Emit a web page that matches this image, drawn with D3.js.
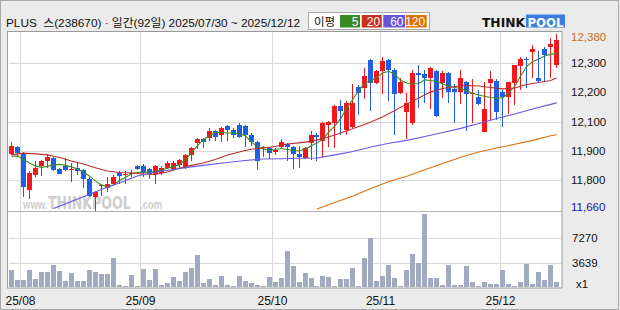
<!DOCTYPE html>
<html>
<head>
<meta charset="utf-8">
<script src="https://cdn.jsdelivr.net/npm/d3@7"></script>
<style>
body { margin: 0; background: #ebebeb; }
svg { display: block; font-family: "Liberation Sans", Arial, "Noto Sans CJK KR", sans-serif; }
</style>
</head>
<body>
<div id="main"></div>
<script>
const ctx = {
    w: 620,
    h: 310,
    plotL: 7.5,
    plotR: 562,
    plotT: 31,
    sepY: 211,
    plotB: 288,
    labelX: 571
};

// trading days 2025/07/30 ~ 2025/12/12 (92)
const dates = ["07/30","07/31",
    "08/01","08/04","08/05","08/06","08/07","08/08","08/11","08/12","08/13","08/14",
    "08/18","08/19","08/20","08/21","08/22","08/25","08/26","08/27","08/28","08/29",
    "09/01","09/02","09/03","09/04","09/05","09/08","09/09","09/10","09/11","09/12",
    "09/15","09/16","09/17","09/18","09/19","09/22","09/23","09/24","09/25","09/26","09/29","09/30",
    "10/01","10/02","10/10","10/13","10/14","10/15","10/16","10/17","10/20","10/21","10/22","10/23","10/24",
    "10/27","10/28","10/29","10/30","10/31",
    "11/03","11/04","11/05","11/06","11/07","11/10","11/11","11/12","11/13","11/14",
    "11/17","11/18","11/19","11/20","11/21","11/24","11/25","11/26","11/27","11/28",
    "12/01","12/02","12/03","12/04","12/05","12/08","12/09","12/10","12/11","12/12"];

const open = [11890,11920,11895,11745,11805,11840,11860,11875,11830,11840,
    11825,11835,11825,11790,11715,11760,11750,11770,11815,11805,
    11810,11840,11840,11830,11810,11815,11835,11830,11845,11835,
    11885,11935,11950,11955,11985,11970,12005,11990,12010,12005,
    11970,11940,11915,11915,11900,11920,11930,11920,11890,11875,
    11935,11970,11945,12010,12015,12085,11990,12000,12165,12160,
    12275,12180,12230,12275,12235,12140,12060,12015,12220,12215,
    12200,12230,12180,12220,12155,12145,12185,12135,12125,11980,
    12180,12190,12145,12125,12180,12250,12280,12305,12200,12320,
    12325,12255];
const high = [11940,11925,11900,11820,11860,11865,11890,11880,11832,11875,
    11855,11855,11830,11795,11740,11770,11795,11805,11820,11820,
    11825,11845,11850,11835,11845,11840,11860,11860,11870,11890,
    11920,11955,11955,11995,11987,12000,12010,11995,12015,12010,
    11975,11945,11925,11920,11915,11950,11935,11925,11925,11920,
    11985,11975,12020,12025,12090,12110,12105,12175,12170,12240,
    12280,12235,12285,12280,12240,12200,12140,12235,12255,12235,
    12245,12235,12230,12225,12175,12235,12190,12195,12150,12185,
    12230,12195,12150,12185,12255,12285,12285,12335,12310,12325,
    12365,12380];
const low = [11885,11880,11715,11705,11795,11800,11835,11820,11810,11820,
    11775,11805,11750,11715,11660,11720,11735,11765,11770,11770,
    11795,11825,11795,11790,11770,11805,11830,11825,11835,11830,
    11860,11910,11915,11945,11945,11940,11945,11955,11955,11920,
    11925,11825,11880,11870,11885,11915,11860,11830,11835,11870,
    11865,11860,11875,11920,11915,11970,11970,11995,12050,12115,
    12065,12175,12135,12105,11970,12135,11950,12010,12080,12100,
    12075,12040,12120,12100,12015,12095,11985,12015,12090,11980,
    12030,12030,12000,12055,12090,12150,12160,12200,12180,12190,
    12200,12240];
const close = [11925,11895,11755,11815,11835,11860,11880,11825,11810,11825,
    11830,11820,11790,11720,11735,11765,11770,11795,11800,11810,
    11815,11830,11815,11810,11840,11835,11855,11855,11865,11885,
    11915,11950,11940,11985,11960,11995,11990,11970,11960,11970,
    11940,11860,11920,11895,11905,11940,11920,11890,11880,11915,
    11970,11960,12015,12020,12085,12065,12100,12100,12140,12210,
    12180,12230,12270,12235,12135,12185,12100,12220,12215,12200,
    12240,12045,12220,12145,12145,12200,12135,12140,12095,12075,
    12195,12060,12125,12185,12255,12280,12275,12320,12190,12295,
    12340,12355];
const volume = [2485,995,995,2485,1143,2187,2187,3230,2336,845,
    2038,845,845,2485,2187,1889,1889,4274,250,100,
    1740,100,2634,995,2634,250,547,1441,845,2187,
    2783,4722,547,1143,250,1590,250,100,1590,845,
    547,250,100,1441,696,1292,5318,3081,696,2038,
    1292,100,1590,1441,100,1143,1143,2783,100,4274,
    7256,845,1590,3230,1292,100,2485,4871,3578,10835,
    1292,1292,250,3230,250,250,3081,696,100,696,
    398,398,2485,398,100,696,3380,398,2187,995,
    3230,696];

// moving averages
const ma5 = [11880,11883,11868,11854,11842,11836,11840,11846,11848,11844,
    11838,11830,11817,11801,11781,11764,11758,11764,11781,11795,
    11809,11815,11817,11817,11819,11825,11832,11838,11848,11866,
    11895,11923,11948,11964,11978,11978,11976,11976,11972,11966,
    11940,11921,11911,11906,11909,11913,11909,11905,11904,11911,
    11923,11936,11950,11982,12005,12037,12078,12115,12150,12180,
    12189,12204,12221,12228,12215,12190,12180,12176,12178,12193,
    12190,12186,12176,12166,12162,12158,12148,12137,12131,12126,
    12121,12119,12119,12140,12166,12209,12247,12268,12278,12290,
    12297,12303];
const ma20Day = [0,2,4,6,8,10,12,14,16,18,20,22,24,26,28,30,32,34,36,38,40,42,44,46,
    48,50,52,54,56,58,60,62,64,66,68,70,72,74,76,78,80,82,84,86,88,90,91];
const ma20 = [11887,11894,11891,11887,11876,11862,11850,11834,11821,11815,11814,11809,
    11807,11817,11832,11844,11854,11868,11885,11899,11910,11915,11921,11931,
    11936,11942,11954,11968,11985,12003,12021,12042,12068,12095,12119,12144,
    12158,12166,12170,12168,12162,12156,12160,12174,12182,12190,12201];
const ma60Day = [7,9,12,15,18,21,24,27,30,33,36,39,42,45,48,51,54,57,60,63,66,69,72,75,78,81,84,87,90,91];
const ma60 = [11668,11687,11716,11746,11772,11801,11817,11827,11838,11847,11856,11864,11870,11871,
    11873,11874,11887,11901,11919,11934,11946,11962,11978,11995,12015,12035,12054,12074,12093,12099];
const ma120Day = [51,54,57,60,63,66,69,72,75,78,81,84,87,90,91];
const ma120 = [11666,11693,11719,11750,11778,11800,11826,11852,11877,11899,11915,11930,11946,11965,11969];

const priceLabels = ["12,380","12,300","12,200","12,100","11,900","11,800","11,660"];
const volumeTicks = [3639, 7270];
const monthStart = ["08/01","09/01","10/01","11/03","12/01"];
const monthLabels = ["25/08","25/09","25/10","25/11","25/12"];
const maNames = ["5","20","60","120"];

const UP = "#f2171b", DOWN = "#1f5fe4";
const maColors = ["#3c8c1e","#b8302c","#6a5ae0","#d9700a"];
const legendColors = ["#3a8a22","#c83020","#6655dd","#e07000"];

function createViz() {
    let svg = d3.select("#main").append("svg")
        .attr("width", ctx.w).attr("height", ctx.h);

    // outer frame
    svg.append("rect").attr("x", 0.5).attr("y", 0.5)
        .attr("width", ctx.w - 2).attr("height", ctx.h - 1)
        .attr("fill", "#ebebeb").attr("stroke", "#a8a8a8");

    let xScale = d3.scaleBand().domain(dates).range([8.5, 559.6]);
    let cx = (d) => xScale(d) + xScale.step() / 2;
    let yScale = d3.scaleLinear().domain([11660, 12380]).range([210.5, 34]);
    let vScale = d3.scaleLinear().domain([0, 11300]).range([287, 211]);
    let gridY = d3.scaleLinear().domain([0, 6]).range([33.7, 209.7]);

    drawHeader(svg);

    // plot area
    svg.append("rect").attr("x", ctx.plotL).attr("y", ctx.plotT + 0.5)
        .attr("width", ctx.plotR - ctx.plotL).attr("height", ctx.plotB - ctx.plotT - 0.5)
        .attr("fill", "white").attr("stroke", "#9a9a9a");

    let gridG = svg.append("g").attr("stroke", "#d9d9d9").attr("shape-rendering", "crispEdges");
    gridG.selectAll("line.v").data(monthStart).enter().append("line")
        .attr("x1", (d) => Math.round(xScale(d)) + 0.5).attr("x2", (d) => Math.round(xScale(d)) + 0.5)
        .attr("y1", ctx.plotT + 1).attr("y2", ctx.plotB - 1);
    gridG.selectAll("line.h").data([1, 2, 3, 4, 5]).enter().append("line")
        .attr("x1", ctx.plotL + 1).attr("x2", ctx.plotR - 1)
        .attr("y1", (d) => Math.round(gridY(d)) + 0.5).attr("y2", (d) => Math.round(gridY(d)) + 0.5);
    gridG.selectAll("line.vol").data(volumeTicks).enter().append("line")
        .attr("x1", ctx.plotL + 1).attr("x2", ctx.plotR - 1)
        .attr("y1", (d) => Math.round(vScale(d)) + 0.5).attr("y2", (d) => Math.round(vScale(d)) + 0.5);

    // separator between price and volume panels
    svg.append("line").attr("x1", ctx.plotL).attr("x2", ctx.plotR)
        .attr("y1", ctx.sepY + 0.5).attr("y2", ctx.sepY + 0.5)
        .attr("stroke", "#b5b5b5").attr("shape-rendering", "crispEdges");

    // watermark (tall narrow letters: small font stretched vertically)
    let wmG = svg.append("g").attr("fill", "#c6c6c6").attr("opacity", 0.85)
        .attr("font-weight", "bold");
    wmG.append("text").attr("transform", "translate(23,209) scale(1,1.3)")
        .attr("font-size", 9.5).text("www.");
    wmG.append("text").attr("transform", "translate(48,209) scale(1,1.45)")
        .attr("font-family", "DejaVu Sans, sans-serif")
        .attr("font-size", 12.6).text("THINKPOOL");
    wmG.append("text").attr("transform", "translate(140,209) scale(1,1.3)")
        .attr("font-size", 9.5).text(".com");

    // volume bars
    svg.append("g").selectAll("rect").data(dates).enter().append("rect")
        .attr("x", (d) => cx(d) - 2.5)
        .attr("y", (d, i) => vScale(volume[i]))
        .attr("width", 5)
        .attr("height", (d, i) => vScale(0) - vScale(volume[i]))
        .attr("fill", "#a2aac2")
        .attr("shape-rendering", "crispEdges");

    // candles
    let candleG = svg.append("g").attr("shape-rendering", "crispEdges");
    candleG.selectAll("line").data(dates).enter().append("line")
        .attr("x1", cx).attr("x2", cx)
        .attr("y1", (d, i) => yScale(high[i]))
        .attr("y2", (d, i) => yScale(low[i]))
        .attr("stroke", (d, i) => close[i] >= open[i] ? UP : DOWN);
    candleG.selectAll("rect").data(dates).enter().append("rect")
        .attr("x", (d) => cx(d) - 2.5)
        .attr("y", (d, i) => yScale(Math.max(open[i], close[i])))
        .attr("width", 5)
        .attr("height", (d, i) => Math.max(1.5, Math.abs(yScale(open[i]) - yScale(close[i]))))
        .attr("fill", (d, i) => close[i] >= open[i] ? UP : DOWN);

    // moving averages, clipped to the price panel
    svg.append("clipPath").attr("id", "priceClip").append("rect")
        .attr("x", ctx.plotL).attr("y", ctx.plotT).attr("width", ctx.plotR - ctx.plotL)
        .attr("height", ctx.sepY - ctx.plotT);
    let maG = svg.append("g").attr("clip-path", "url(#priceClip)");
    let series = [
        ma5.map((v, i) => [i, v]),
        ma20.map((v, k) => [ma20Day[k], v]),
        ma60.map((v, k) => [ma60Day[k], v]),
        ma120.map((v, k) => [ma120Day[k], v])
    ];
    let line = d3.line().x((d) => cx(dates[d[0]])).y((d) => yScale(d[1]));
    series.forEach((s, k) => {
        maG.append("path").datum(s)
            .attr("d", line)
            .attr("fill", "none")
            .attr("stroke", maColors[k])
            .attr("stroke-width", 1.1);
    });

    // right-hand labels
    svg.append("g").selectAll("text").data(priceLabels).enter().append("text")
        .attr("x", ctx.labelX)
        .attr("y", (d, i) => gridY(i) + (i === 0 ? 3.6 : (i === 6 ? -3 : 0)))
        .attr("dy", "0.35em")
        .attr("font-size", 11.5)
        .attr("fill", (d, i) => i === 0 ? "#c8701e" : (i === 6 ? "#1414b4" : "#111"))
        .text((d) => d);
    svg.append("g").selectAll("text").data(volumeTicks).enter().append("text")
        .attr("x", ctx.labelX + 1)
        .attr("y", (d) => vScale(d))
        .attr("dy", "0.35em")
        .attr("font-size", 11.5)
        .attr("fill", "#111")
        .text((d) => d);
    svg.append("text").attr("x", ctx.labelX + 5).attr("y", vScale(0)).attr("dy", "0.1em")
        .attr("font-size", 11.5).attr("fill", "#111").text("x1");

    // month labels
    svg.append("g").selectAll("text").data(monthStart).enter().append("text")
        .attr("x", (d) => Math.round(xScale(d)) + 0.5)
        .attr("y", 305)
        .attr("text-anchor", "middle")
        .attr("font-size", 12)
        .attr("fill", "#111")
        .text((d, i) => monthLabels[i]);
}

function drawHeader(svg) {
    svg.append("text").attr("x", 6).attr("y", 26.5)
        .attr("font-size", 11.6).attr("fill", "#111")
        .attr("textLength", 294).attr("lengthAdjust", "spacingAndGlyphs")
        .attr("xml:space", "preserve")
        .text("PLUS  스(238670) · 일간(92일) 2025/07/30 ~ 2025/12/12");

    // MA legend box
    let lg = svg.append("g");
    lg.append("rect").attr("x", 308.5).attr("y", 12.5).attr("width", 121).attr("height", 17)
        .attr("fill", "white").attr("stroke", "#a8a8a8");
    lg.append("text").attr("x", 314).attr("y", 26)
        .attr("font-family", "Noto Sans CJK KR").attr("font-size", 11.5).attr("fill", "#111")
        .text("이평");
    let boxX = d3.scaleOrdinal().domain(maNames).range([340, 361.7, 383.3, 406]);
    let boxW = d3.scaleOrdinal().domain(maNames).range([20, 20, 21.7, 20.7]);
    let items = lg.selectAll("g.item").data(maNames).enter().append("g");
    items.append("rect")
        .attr("x", (d) => boxX(d)).attr("y", 15)
        .attr("width", (d) => boxW(d)).attr("height", 12.5)
        .attr("fill", (d, i) => legendColors[i]);
    items.append("text")
        .attr("x", (d) => boxX(d) + boxW(d) - 1.5).attr("y", 25.8)
        .attr("text-anchor", "end").attr("font-size", 12).attr("fill", "white")
        .text((d) => d);

    // logo
    svg.append("text").attr("x", 482).attr("y", 27)
        .attr("font-family", "DejaVu Sans, sans-serif").attr("font-weight", "bold")
        .attr("font-size", 12.5).attr("textLength", 43).attr("lengthAdjust", "spacingAndGlyphs")
        .attr("fill", "#111").text("THINK");
    svg.append("rect").attr("x", 526).attr("y", 14.5).attr("width", 39).attr("height", 13)
        .attr("fill", "#3b7ee2");
    svg.append("text").attr("x", 527.5).attr("y", 26.5)
        .attr("font-family", "DejaVu Sans, sans-serif").attr("font-weight", "bold")
        .attr("font-size", 12.5).attr("textLength", 36).attr("lengthAdjust", "spacingAndGlyphs")
        .attr("fill", "white").text("POOL");
}

createViz();
</script>
</body>
</html>
